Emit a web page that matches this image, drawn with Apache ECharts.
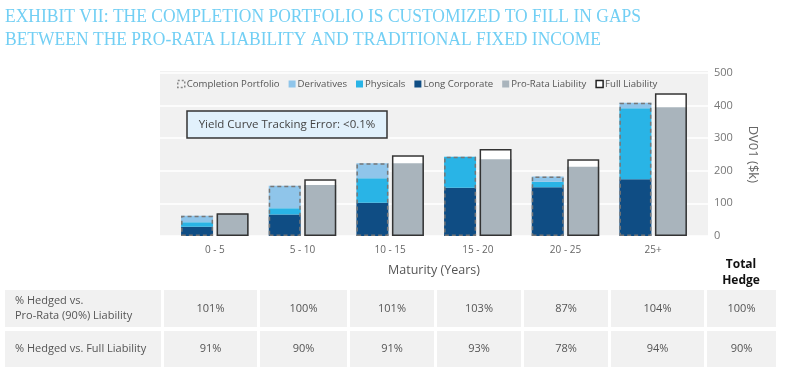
<!DOCTYPE html>
<html><head><meta charset="utf-8">
<script src="https://cdn.jsdelivr.net/npm/echarts@6/dist/echarts.min.js"></script>
<style>html,body{margin:0;padding:0;background:#fff}#c{width:788px;height:375px}</style>
</head><body><div id="c"></div>
<script>
const categories = ['0 - 5','5 - 10','10 - 15','15 - 20','20 - 25','25+'];
const longCorporate = [28, 66, 102, 148, 149, 174];
const physicals = [14, 19, 75, 95, 17, 217];
const derivatives = [20, 69, 46, 0, 16, 17];
const proRataLiability = [68, 156, 223, 235, 212, 394];
const fullLiability = [70, 174, 247, 266, 235, 437];
const yTicks = [0, 100, 200, 300, 400, 500];
const rowLabels = [['% Hedged vs.', 'Pro-Rata (90%) Liability'], ['% Hedged vs. Full Liability']];
const hedgedVsProRata = ['101%','100%','101%','103%','87%','104%','100%'];
const hedgedVsFull = ['91%','90%','91%','93%','78%','94%','90%'];
const titleLines = ['EXHIBIT VII: THE COMPLETION PORTFOLIO IS CUSTOMIZED TO FILL IN GAPS','BETWEEN THE PRO-RATA LIABILITY AND TRADITIONAL FIXED INCOME'];

const completionTotal = longCorporate.map((v,i)=>v+physicals[i]+derivatives[i]);
const FONT = "'Open Sans', sans-serif";
const C = {lc:'#0f4d84', ph:'#29b4e6', de:'#8fc5ea', pr:'#a9b4bc', panel:'#f1f1f1'};

const TITLE_FONT = "19px 'Liberation Serif', serif";
const cv = document.createElement('canvas').getContext('2d');
cv.font = TITLE_FONT;
const titleScale = 636 / cv.measureText(titleLines[0]).width;

const chart = echarts.init(document.getElementById('c'));
const gridTop = 72.7, gridH = 163.3;
const barW = 32, gap = '11%';
const xCommon = {type:'category', data:categories, gridIndex:1, axisLine:{show:false}, axisTick:{show:false}};
const hiddenX = Object.assign({}, xCommon, {axisLabel:{show:false}});

const cellX = [[164,257],[260,347],[350,434],[437,521],[524,608],[611,704],[707,776]];
const rowsY = [[290,327],[331,367]];
const g = [];
g.push({type:'rect', z:-10, shape:{x:160,y:71,width:548,height:165}, style:{fill:C.panel}});
titleLines.forEach((t,i)=>g.push({type:'text', x:5, y:17+i*23, scaleX:titleScale, style:{text:t, fontSize:19, fontFamily:"'Liberation Serif', serif", fill:'#72cff4', verticalAlign:'middle'}}));
g.push({type:'rect', z:50, shape:{x:187,y:111,width:200,height:27}, style:{fill:'#e1f1fc', stroke:'#333', lineWidth:1.5}});
g.push({type:'text', z:51, x:287, y:124.5, style:{text:'Yield Curve Tracking Error: <0.1%', fontSize:11.5, fontFamily:FONT, fill:'#444', align:'center', verticalAlign:'middle'}});
g.push({type:'text', x:741, y:265, style:{text:'Total', fontSize:12, fontWeight:'bold', fontFamily:FONT, fill:'#111', align:'center', verticalAlign:'middle'}});
g.push({type:'text', x:741, y:281, style:{text:'Hedge', fontSize:12, fontWeight:'bold', fontFamily:FONT, fill:'#111', align:'center', verticalAlign:'middle'}});
[hedgedVsProRata, hedgedVsFull].forEach((row,r)=>{
  const [y0,y1] = rowsY[r];
  g.push({type:'rect', shape:{x:5,y:y0,width:156,height:y1-y0}, style:{fill:C.panel}});
  const lbl = rowLabels[r];
  lbl.forEach((t,k)=>g.push({type:'text', x:15, y:(y0+y1)/2 + (k-(lbl.length-1)/2)*15, style:{text:t, fontSize:11, fontFamily:FONT, fill:'#555', verticalAlign:'middle'}}));
  row.forEach((v,i)=>{
    const [x0,x1] = cellX[i];
    g.push({type:'rect', shape:{x:x0,y:y0,width:x1-x0,height:y1-y0}, style:{fill:C.panel}});
    g.push({type:'text', x:(x0+x1)/2, y:(y0+y1)/2, style:{text:v, fontSize:11, fontFamily:FONT, fill:'#555', align:'center', verticalAlign:'middle'}});
  });
});

chart.setOption({
  animation:false,
  textStyle:{fontFamily:FONT},
  graphic:g,
  grid:[
    {left:160, width:548, top:gridTop, height:gridH},
    {left:171, width:526, top:gridTop, height:gridH}
  ],
  legend:{
    left:172, top:74, itemWidth:7, itemHeight:7, itemGap:9,
    textStyle:{fontSize:9.6, color:'#555', padding:[0,0,0,-3]},
    data:[
      {name:'Completion Portfolio', icon:'rect', itemStyle:{color:'transparent', borderColor:'#888', borderWidth:1.5, borderType:[2,2]}},
      {name:'Derivatives', icon:'rect', itemStyle:{color:C.de, borderWidth:0}},
      {name:'Physicals', icon:'rect', itemStyle:{color:C.ph, borderWidth:0}},
      {name:'Long Corporate', icon:'rect', itemStyle:{color:C.lc, borderWidth:0}},
      {name:'Pro-Rata Liability', icon:'rect', itemStyle:{color:C.pr, borderWidth:0}},
      {name:'Full Liability', icon:'rect', itemStyle:{color:'#fff', borderColor:'#222', borderWidth:1.5}}
    ]
  },
  xAxis:[
    {type:'category', data:categories, gridIndex:0, show:false},
    Object.assign({}, xCommon, {
      axisLabel:{color:'#666', fontSize:10, margin:9},
      name:'Maturity (Years)', nameLocation:'middle', nameGap:28,
      nameTextStyle:{color:'#555', fontSize:12.5}
    }),
    hiddenX, hiddenX
  ],
  yAxis:[
    {type:'value', gridIndex:0, min:0, max:500, interval:100, position:'right',
     axisLine:{show:false}, axisTick:{show:false},
     axisLabel:{color:'#777', fontSize:11, margin:6},
     splitLine:{lineStyle:{color:'#ffffff', width:1.5}},
     name:'DV01 ($k)', nameLocation:'middle', nameRotate:-90, nameGap:38,
     nameTextStyle:{color:'#666', fontSize:13}},
    {type:'value', gridIndex:1, min:0, max:500, interval:100, show:false}
  ],
  series:[
    {name:'Long Corporate', type:'bar', xAxisIndex:1, yAxisIndex:1, stack:'comp', barWidth:barW, barGap:gap, data:longCorporate, itemStyle:{color:C.lc}, z:2},
    {name:'Physicals', type:'bar', xAxisIndex:1, yAxisIndex:1, stack:'comp', barWidth:barW, barGap:gap, data:physicals, itemStyle:{color:C.ph}, z:2},
    {name:'Derivatives', type:'bar', xAxisIndex:1, yAxisIndex:1, stack:'comp', barWidth:barW, barGap:gap, data:derivatives, itemStyle:{color:C.de}, z:2},
    {name:'Full Liability', type:'bar', xAxisIndex:1, yAxisIndex:1, barWidth:barW, barGap:gap, data:fullLiability, itemStyle:{color:'#fff'}, z:2},
    {name:'_dummy', type:'bar', xAxisIndex:2, yAxisIndex:1, barWidth:barW, barGap:gap, data:categories.map(()=>0), itemStyle:{color:'transparent'}, z:3},
    {name:'Pro-Rata Liability', type:'bar', xAxisIndex:2, yAxisIndex:1, barWidth:barW, barGap:gap, data:proRataLiability, itemStyle:{color:C.pr}, z:3},
    {name:'Completion Portfolio', type:'bar', xAxisIndex:3, yAxisIndex:1, barWidth:barW, barGap:gap, data:completionTotal, itemStyle:{color:'transparent', borderColor:'#777', borderWidth:1.5, borderType:[4,3]}, z:4},
    {name:'_fullOutline', type:'bar', xAxisIndex:3, yAxisIndex:1, barWidth:barW, barGap:gap, data:fullLiability, itemStyle:{color:'transparent', borderColor:'#333', borderWidth:1.5}, z:4}
  ]
});
</script></body></html>
